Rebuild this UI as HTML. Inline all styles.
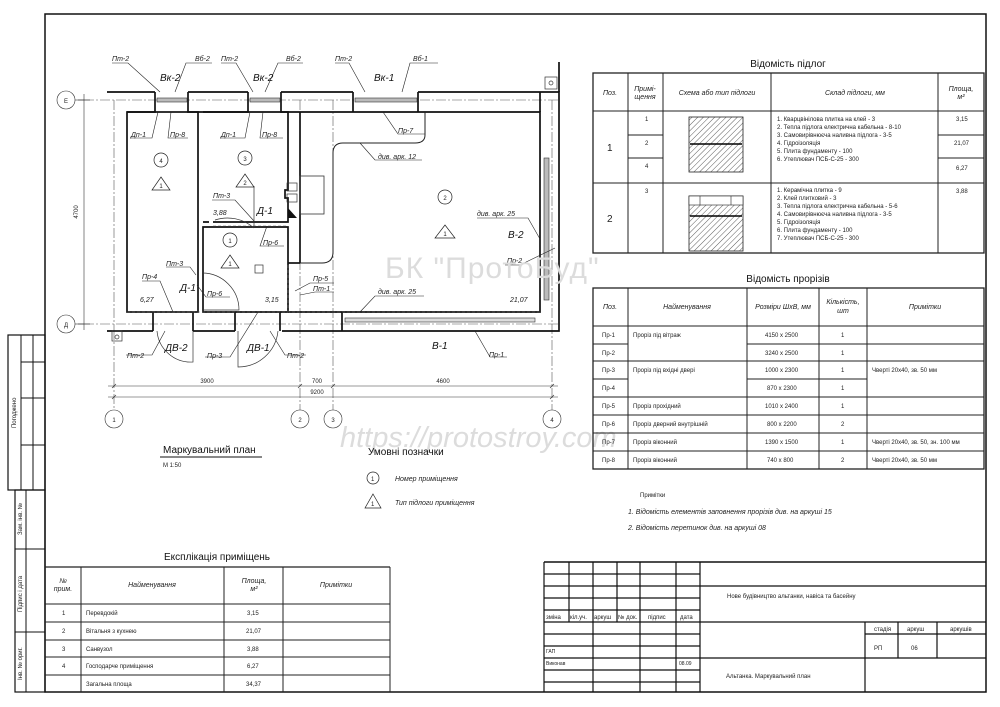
<!DOCTYPE html>
<html><head><meta charset="utf-8"><style>
html,body{margin:0;padding:0;background:#fff;}
svg{display:block;font-family:"Liberation Sans","DejaVu Sans",sans-serif;}
.t{font-size:7px;font-style:italic;fill:#222;}
.s{font-size:6px;fill:#222;}
.m{font-size:10px;font-style:italic;fill:#111;}
.h{font-size:10px;fill:#111;}
</style></head><body>
<svg width="1000" height="707" viewBox="0 0 1000 707" xmlns="http://www.w3.org/2000/svg">
<defs>
<pattern id="hz" width="4" height="4" patternUnits="userSpaceOnUse" patternTransform="rotate(45)"><line x1="0" y1="0" x2="0" y2="4" stroke="#333" stroke-width="0.8"/></pattern>
</defs>
<rect width="1000" height="707" fill="#fff"/>
<!-- frame -->
<g fill="none" stroke="#111" stroke-width="1.5">
<rect x="45" y="14" width="941" height="678"/>
<rect x="8" y="335" width="37" height="155" stroke-width="1.2"/>
<rect x="15" y="490" width="30" height="202" stroke-width="1.2"/>
</g>
<g stroke="#111" stroke-width="1">
<line x1="21" y1="335" x2="21" y2="490"/><line x1="33" y1="335" x2="33" y2="490"/>
<line x1="21" y1="362" x2="45" y2="362"/><line x1="21" y1="398" x2="45" y2="398"/><line x1="21" y1="445" x2="45" y2="445"/>
<line x1="26" y1="490" x2="26" y2="692"/><line x1="15" y1="549" x2="45" y2="549"/><line x1="15" y1="632" x2="45" y2="632"/>
</g>
<g class="s" font-size="5">
<text transform="translate(16,428) rotate(-90)">Погоджено</text>
<text transform="translate(22,535) rotate(-90)">Зам. інв. №</text>
<text transform="translate(22,612) rotate(-90)">Підпис і дата</text>
<text transform="translate(22,680) rotate(-90)">Інв. № ориг.</text>
</g>

<!-- PLAN -->
<g stroke="#555" stroke-width="0.6" stroke-dasharray="10,2,2,2" fill="none">
<line x1="84" y1="100" x2="560" y2="100"/><line x1="84" y1="324" x2="560" y2="324"/>
<line x1="114" y1="330" x2="114" y2="410"/><line x1="300" y1="100" x2="300" y2="410"/>
<line x1="333" y1="100" x2="333" y2="410"/><line x1="552" y1="100" x2="552" y2="410"/>
<line x1="114" y1="100" x2="114" y2="330"/>
</g>
<g fill="none" stroke="#111" stroke-width="1.7">
<path d="M107,92 H155 M188,92 H248 M281,92 H353 M418,92 H559 V331 H282 M235,331 H193 M153,331 H107 Z"/>
<path d="M155,92 V98 M188,92 V98 M248,92 V98 M281,92 V98 M353,92 V98 M418,92 V98"/>
<path d="M559,92 V62 M540,112 V92"/>
<rect x="127" y="112" width="71" height="200"/>
<path d="M203,112 H288 V190 H285 V198 H288 V222 H213 M209,222 H203 Z"/>
<path d="M203,227 H288 V312 H203 Z"/>
<path d="M300,112 H540 V312 H288 M300,112 V263"/>
<path d="M127,112 H155 V98 M188,98 V112 H203 M248,98 V112 H203 M281,98 V112 H300 M353,98 V112 M418,98 V112"/>
<path d="M153,331 V312 M193,331 V312 M235,331 V312 M280,331 V312 M342,331 V312"/>
<path d="M288,263 H300"/>
</g>
<!-- kitchen counter -->
<path d="M425,112 V135 Q425,143 415,143 H343 Q333,143 333,153 V252 Q333,263 322,263 H300" fill="none" stroke="#222" stroke-width="1"/>
<rect x="300" y="176" width="24" height="38" fill="none" stroke="#333" stroke-width="0.8"/>
<rect x="287" y="183" width="10" height="8" fill="none" stroke="#333" stroke-width="0.7"/>
<rect x="287" y="194" width="10" height="8" fill="none" stroke="#333" stroke-width="0.7"/>
<path d="M288,208 L297,218 H288 Z" fill="#111"/>
<rect x="255" y="265" width="8" height="8" fill="none" stroke="#333" stroke-width="0.7"/>
<!-- windows -->
<g fill="#bbb" stroke="#333" stroke-width="0.6">
<rect x="157" y="98" width="30" height="4"/><rect x="250" y="98" width="30" height="4"/><rect x="355" y="98" width="62" height="4"/>
<rect x="345" y="318" width="190" height="4" fill="#ddd"/><rect x="544" y="158" width="5" height="142"/>
</g>
<!-- doors -->
<g fill="none" stroke="#333" stroke-width="0.7">
<path d="M193,331 V362 A34,34 0 0 1 157,331"/>
<path d="M238,331 V367 A40,40 0 0 0 278,331"/>
<path d="M202,273 A37,37 0 0 1 239,310 H202"/>
<path d="M254,228 A40,40 0 0 0 215,220 M254,186 V228"/>
<rect x="112" y="331" width="10" height="10"/><circle cx="117" cy="337" r="2"/>
<rect x="545" y="77" width="12" height="12"/><circle cx="551" cy="83" r="2"/>
</g>
<g stroke="#555" stroke-width="0.6" stroke-dasharray="3,2" fill="none">
<line x1="213" y1="226" x2="288" y2="226"/><line x1="288" y1="265" x2="288" y2="312"/><line x1="127" y1="312" x2="540" y2="312"/>
</g>
<!-- leaders -->
<g stroke="#222" stroke-width="0.6" fill="none">
<path d="M112,63 H128 L160,92 M175,92 L186,63 H212"/>
<path d="M221,63 H236 L253,92 M265,92 L278,63 H303"/>
<path d="M335,63 H349 L365,92 M402,92 L410,63 H438"/>
<path d="M158,112 L152,138 H130 M171,112 L168,138 H188"/>
<path d="M250,112 L245,138 H220 M263,112 L260,138 H283"/>
<path d="M383,112 L398,134 H425"/>
<path d="M360,143 L375,160 H422"/>
<path d="M254,221 L235,200 H212"/>
<path d="M267,226 L260,246 H284"/>
<path d="M196,275 L190,267 H166"/>
<path d="M197,285 L206,297 H230"/>
<path d="M173,312 L160,281 H142"/>
<path d="M165,331 L152,355 H126"/>
<path d="M258,312 L230,357 H205"/>
<path d="M270,331 L285,355 H306"/>
<path d="M295,291 L310,283 H334"/>
<path d="M300,295 L315,292 H334"/>
<path d="M360,312 L375,296 H424"/>
<path d="M540,239 L528,218 H477"/>
<path d="M555,248 L520,265 H505"/>
<path d="M475,331 L490,357 H507"/>
</g>
<g class="t">
<text x="112" y="61">Пт-2</text><text x="195" y="61">Вб-2</text><text x="221" y="61">Пт-2</text><text x="286" y="61">Вб-2</text>
<text x="335" y="61">Пт-2</text><text x="413" y="61">Вб-1</text>
<text x="131" y="137">Дп-1</text><text x="170" y="137">Пр-8</text><text x="221" y="137">Дп-1</text><text x="262" y="137">Пр-8</text>
<text x="398" y="133">Пр-7</text><text x="378" y="159">див. арк. 12</text>
<text x="213" y="198">Пт-3</text><text x="263" y="245">Пр-6</text><text x="166" y="266">Пт-3</text><text x="142" y="279">Пр-4</text>
<text x="207" y="296">Пр-6</text><text x="313" y="281">Пр-5</text><text x="313" y="291">Пт-1</text>
<text x="378" y="294">див. арк. 25</text><text x="477" y="216">див. арк. 25</text><text x="507" y="263">Пр-2</text>
<text x="127" y="358">Пт-2</text><text x="207" y="358">Пр-3</text><text x="287" y="358">Пт-2</text><text x="489" y="357">Пр-1</text>
<text x="213" y="215">3,88</text><text x="140" y="302">6,27</text><text x="265" y="302">3,15</text><text x="510" y="302">21,07</text>
</g>
<g class="m">
<text x="160" y="81">Вк-2</text><text x="253" y="81">Вк-2</text><text x="374" y="81">Вк-1</text>
<text x="257" y="214">Д-1</text><text x="180" y="291">Д-1</text>
<text x="165" y="351">ДВ-2</text><text x="247" y="351">ДВ-1</text><text x="432" y="349">В-1</text><text x="508" y="238">В-2</text>
</g>
<!-- room markers -->
<g fill="none" stroke="#222" stroke-width="0.7">
<circle cx="161" cy="160" r="7"/><circle cx="245" cy="158" r="7"/><circle cx="230" cy="240" r="7"/><circle cx="445" cy="197" r="7"/>
<path d="M161,177 L170,190 H152 Z"/><path d="M245,174 L254,187 H236 Z"/><path d="M230,255 L239,268 H221 Z"/><path d="M445,225 L455,238 H435 Z"/>
</g>
<g class="s" text-anchor="middle" font-size="8">
<text x="161" y="163">4</text><text x="245" y="161">3</text><text x="230" y="243">1</text><text x="445" y="200">2</text>
</g>
<g class="s" text-anchor="middle" font-size="6">
<text x="161" y="188">1</text><text x="245" y="185">2</text><text x="230" y="266">1</text><text x="445" y="236">1</text>
</g>
<!-- dims -->
<g stroke="#333" stroke-width="0.6" fill="none">
<line x1="108" y1="386" x2="558" y2="386"/><line x1="108" y1="397" x2="558" y2="397"/>
<line x1="84" y1="94" x2="84" y2="330"/><line x1="78" y1="100" x2="90" y2="100"/><line x1="78" y1="324" x2="90" y2="324"/>
<path d="M112,388 l4,-4 M298,388 l4,-4 M331,388 l4,-4 M550,388 l4,-4 M112,399 l4,-4 M550,399 l4,-4"/>
<circle cx="66" cy="100" r="9"/><circle cx="66" cy="324" r="9"/>
<circle cx="114" cy="419" r="9"/><circle cx="300" cy="419" r="9"/><circle cx="333" cy="419" r="9"/><circle cx="552" cy="419" r="9"/>
<line x1="75" y1="100" x2="84" y2="100"/><line x1="75" y1="324" x2="84" y2="324"/>
</g>
<g class="s" font-size="6" text-anchor="middle">
<text x="207" y="383">3900</text><text x="317" y="383">700</text><text x="443" y="383">4600</text><text x="317" y="394">9200</text>
<text transform="translate(78,212) rotate(-90)">4700</text>
</g>
<g class="s" font-size="9" text-anchor="middle">
<text x="66" y="103">Е</text><text x="66" y="327">Д</text>
<text x="114" y="422">1</text><text x="300" y="422">2</text><text x="333" y="422">3</text><text x="552" y="422">4</text>
</g>
<!-- watermark -->
<text x="385" y="278" font-size="30" fill="#dcdcdc" style="letter-spacing:1px">БК "ПротоБуд"</text>
<text x="340" y="447" font-size="29" font-style="italic" fill="#dcdcdc">https://protostroy.com</text>

<!-- plan title & legend -->
<text x="163" y="453" class="h" font-size="9">Маркувальний план</text>
<line x1="160" y1="457" x2="262" y2="457" stroke="#111" stroke-width="1"/>
<text x="163" y="467" class="s" font-size="8">М 1:50</text>
<text x="368" y="455" class="h" font-size="9">Умовні позначки</text>
<circle cx="373" cy="478" r="6" fill="none" stroke="#222" stroke-width="0.7"/><text x="371" y="481" class="s" font-size="6">1</text>
<path d="M373,494 L381,508 H365 Z" fill="none" stroke="#222" stroke-width="0.7"/><text x="371" y="506" class="s" font-size="6">1</text>
<text x="395" y="481" class="t" font-size="6">Номер приміщення</text>
<text x="395" y="505" class="t" font-size="6">Тип підлоги приміщення</text>

<!-- notes -->
<text x="640" y="497" class="s" font-size="7.5">Примітки</text>
<text x="628" y="514" class="t" font-size="8">1.  Відомість елементів заповнення прорізів див. на аркуші 15</text>
<text x="628" y="530" class="t" font-size="8">2.  Відомість перетинок див. на аркуші 08</text>

<!-- FLOOR TABLE -->
<text x="788" y="67" class="h" text-anchor="middle" font-size="9">Відомість підлог</text>
<g fill="none" stroke="#222" stroke-width="1">
<rect x="593" y="73" width="391" height="180" stroke-width="1.3"/>
<line x1="593" y1="111" x2="984" y2="111"/><line x1="593" y1="183" x2="984" y2="183"/>
<line x1="628" y1="73" x2="628" y2="253"/><line x1="663" y1="73" x2="663" y2="253"/><line x1="771" y1="73" x2="771" y2="253"/><line x1="938" y1="73" x2="938" y2="253"/>
<line x1="628" y1="135" x2="663" y2="135"/><line x1="628" y1="158" x2="663" y2="158"/>
<line x1="938" y1="135" x2="984" y2="135"/><line x1="938" y1="158" x2="984" y2="158"/>
</g>
<rect x="689" y="117" width="54" height="55" fill="url(#hz)" stroke="#222" stroke-width="0.8"/>
<rect x="689" y="196" width="54" height="55" fill="url(#hz)" stroke="#222" stroke-width="0.8"/>
<rect x="689" y="196" width="54" height="9" fill="#fff" stroke="#222" stroke-width="0.6"/>
<line x1="700" y1="196" x2="700" y2="205" stroke="#222" stroke-width="0.6"/><line x1="731" y1="196" x2="731" y2="205" stroke="#222" stroke-width="0.6"/>
<line x1="690" y1="144" x2="742" y2="144" stroke="#000" stroke-width="1.5"/><line x1="690" y1="216" x2="742" y2="216" stroke="#000" stroke-width="1.5"/>
<g class="t" font-size="5.5" text-anchor="middle">
<text x="610" y="95">Поз.</text><text x="645" y="91">Примі-</text><text x="645" y="99">щення</text>
<text x="717" y="95">Схема або тип підлоги</text><text x="855" y="95">Склад підлоги, мм</text>
<text x="961" y="91">Площа,</text><text x="961" y="99">м²</text>
</g>
<g class="s" font-size="5.5">
<text x="645" y="121">1</text><text x="645" y="145">2</text><text x="645" y="168">4</text><text x="645" y="193">3</text>
<text x="956" y="121">3,15</text><text x="954" y="145">21,07</text><text x="956" y="170">6,27</text><text x="956" y="193">3,88</text>
<text x="777" y="121">1. Кварцвінілова плитка на клей - 3</text>
<text x="777" y="129">2. Тепла підлога електрична кабельна - 8-10</text>
<text x="777" y="137">3. Самовирівнюєча наливна підлога - 3-5</text>
<text x="777" y="145">4. Гідроізоляція</text>
<text x="777" y="153">5. Плита фундаменту - 100</text>
<text x="777" y="161">6. Утеплювач ПСБ-С-25 - 300</text>
<text x="777" y="192">1. Керамічна плитка - 9</text>
<text x="777" y="200">2. Клей плитковий - 3</text>
<text x="777" y="208">3. Тепла підлога електрична кабельна - 5-6</text>
<text x="777" y="216">4. Самовирівнюєча наливна підлога - 3-5</text>
<text x="777" y="224">5. Гідроізоляція</text>
<text x="777" y="232">6. Плита фундаменту - 100</text>
<text x="777" y="240">7. Утеплювач ПСБ-С-25 - 300</text>
<text x="607" y="151" font-size="10">1</text><text x="607" y="222" font-size="10">2</text>
</g>

<!-- OPENINGS TABLE -->
<text x="788" y="282" class="h" text-anchor="middle" font-size="9">Відомість прорізів</text>
<g fill="none" stroke="#222" stroke-width="1">
<rect x="593" y="288" width="391" height="181" stroke-width="1.3"/>
<line x1="593" y1="326" x2="984" y2="326"/>
<line x1="628" y1="288" x2="628" y2="469"/><line x1="747" y1="288" x2="747" y2="469"/><line x1="819" y1="288" x2="819" y2="469"/><line x1="867" y1="288" x2="867" y2="469"/>
<line x1="593" y1="344" x2="628" y2="344"/><line x1="747" y1="344" x2="867" y2="344"/>
<line x1="593" y1="361" x2="984" y2="361"/>
<line x1="593" y1="379" x2="628" y2="379"/><line x1="747" y1="379" x2="867" y2="379"/>
<line x1="593" y1="397" x2="984" y2="397"/><line x1="593" y1="415" x2="984" y2="415"/><line x1="593" y1="433" x2="984" y2="433"/><line x1="593" y1="451" x2="984" y2="451"/>
<line x1="867" y1="344" x2="984" y2="344"/>
</g>
<g class="t" font-size="5.5" text-anchor="middle">
<text x="610" y="309">Поз.</text><text x="687" y="309">Найменування</text><text x="783" y="309">Розміри ШхВ, мм</text>
<text x="843" y="304">Кількість,</text><text x="843" y="313">шт</text><text x="925" y="309">Примітки</text>
</g>
<g class="s" font-size="5.5">
<text x="602" y="337">Пр-1</text><text x="602" y="355">Пр-2</text><text x="602" y="372">Пр-3</text><text x="602" y="390">Пр-4</text>
<text x="602" y="408">Пр-5</text><text x="602" y="426">Пр-6</text><text x="602" y="444">Пр-7</text><text x="602" y="462">Пр-8</text>
<text x="633" y="337">Проріз під вітраж</text><text x="633" y="372">Проріз під вхідні двері</text>
<text x="633" y="408">Проріз прохідний</text><text x="633" y="426">Проріз дверний внутрішній</text>
<text x="633" y="444">Проріз віконний</text><text x="633" y="462">Проріз віконний</text>
<text x="765" y="337">4150 x 2500</text><text x="765" y="355">3240 x 2500</text><text x="765" y="372">1000 x 2300</text><text x="767" y="390">870 x 2300</text>
<text x="765" y="408">1010 x 2400</text><text x="767" y="426">800 x 2200</text><text x="765" y="444">1390 x 1500</text><text x="767" y="462">740 x 800</text>
<text x="841" y="337">1</text><text x="841" y="355">1</text><text x="841" y="372">1</text><text x="841" y="390">1</text><text x="841" y="408">1</text><text x="841" y="426">2</text><text x="841" y="444">1</text><text x="841" y="462">2</text>
<text x="872" y="372">Чверті 20х40, зв. 50 мм</text><text x="872" y="444">Чверті 20х40, зв. 50, зн. 100 мм</text><text x="872" y="462">Чверті 20х40, зв. 50 мм</text>
</g>

<!-- EXPLICATION -->
<text x="217" y="560" class="h" text-anchor="middle" font-size="9">Експлікація приміщень</text>
<g fill="none" stroke="#222" stroke-width="1">
<line x1="45" y1="567" x2="390" y2="567" stroke-width="1.3"/><line x1="390" y1="567" x2="390" y2="692"/>
<line x1="45" y1="604" x2="390" y2="604"/><line x1="45" y1="622" x2="390" y2="622"/><line x1="45" y1="640" x2="390" y2="640"/>
<line x1="45" y1="657" x2="390" y2="657"/><line x1="45" y1="675" x2="390" y2="675"/>
<line x1="81" y1="567" x2="81" y2="692"/><line x1="224" y1="567" x2="224" y2="692"/><line x1="283" y1="567" x2="283" y2="692"/>
</g>
<g class="t" font-size="5.5" text-anchor="middle">
<text x="63" y="583">№</text><text x="63" y="591">прим.</text><text x="152" y="587">Найменування</text>
<text x="254" y="583">Площа,</text><text x="254" y="591">м²</text><text x="336" y="587">Примітки</text>
</g>
<g class="s" font-size="5.5">
<text x="62" y="615">1</text><text x="62" y="633">2</text><text x="62" y="651">3</text><text x="62" y="668">4</text>
<text x="86" y="615">Перевдокій</text><text x="86" y="633">Вітальня з кухнею</text><text x="86" y="651">Санвузол</text><text x="86" y="668">Господарче приміщення</text><text x="86" y="686">Загальна площа</text>
<text x="247" y="615">3,15</text><text x="246" y="633">21,07</text><text x="247" y="651">3,88</text><text x="247" y="668">6,27</text><text x="246" y="686">34,37</text>
</g>

<!-- TITLE BLOCK -->
<g fill="none" stroke="#111" stroke-width="1.2">
<line x1="544" y1="562" x2="986" y2="562" stroke-width="1.5"/><line x1="544" y1="562" x2="544" y2="692"/>
<line x1="569" y1="562" x2="569" y2="622"/><line x1="593" y1="562" x2="593" y2="692"/><line x1="617" y1="562" x2="617" y2="622"/>
<line x1="640" y1="562" x2="640" y2="692"/><line x1="676" y1="562" x2="676" y2="692"/><line x1="700" y1="562" x2="700" y2="692"/>
<line x1="544" y1="574" x2="700" y2="574"/><line x1="544" y1="586" x2="986" y2="586"/><line x1="544" y1="598" x2="700" y2="598"/>
<line x1="544" y1="610" x2="700" y2="610"/><line x1="544" y1="622" x2="986" y2="622"/><line x1="544" y1="634" x2="700" y2="634"/>
<line x1="544" y1="646" x2="700" y2="646"/><line x1="544" y1="658" x2="986" y2="658"/><line x1="544" y1="670" x2="700" y2="670"/><line x1="544" y1="682" x2="700" y2="682"/>
<line x1="865" y1="622" x2="865" y2="692"/><line x1="898" y1="622" x2="898" y2="658"/><line x1="937" y1="622" x2="937" y2="658"/><line x1="865" y1="634" x2="986" y2="634"/>
</g>
<g class="s" font-size="4.5">
<text x="546" y="619">зміна</text><text x="570" y="619">кіл.уч.</text><text x="594" y="619">аркуш</text><text x="618" y="619">№ док.</text><text x="648" y="619">підпис</text><text x="680" y="619">дата</text>
<text x="874" y="631">стадія</text><text x="907" y="631">аркуш</text><text x="950" y="631">аркушів</text>
<text x="546" y="653" font-size="5">ГАП</text><text x="546" y="665" font-size="5">Виконав</text><text x="679" y="665" font-size="5">08.09</text>
</g>
<text x="727" y="598" class="s" font-size="7.5">Нове будівництво альтанки, навіса та басейну</text>
<text x="726" y="678" class="s" font-size="7.5">Альтанка. Маркувальний план</text>
<text x="874" y="650" class="s" font-size="9">РП</text><text x="911" y="650" class="s" font-size="9">06</text>
</svg>
</body></html>
